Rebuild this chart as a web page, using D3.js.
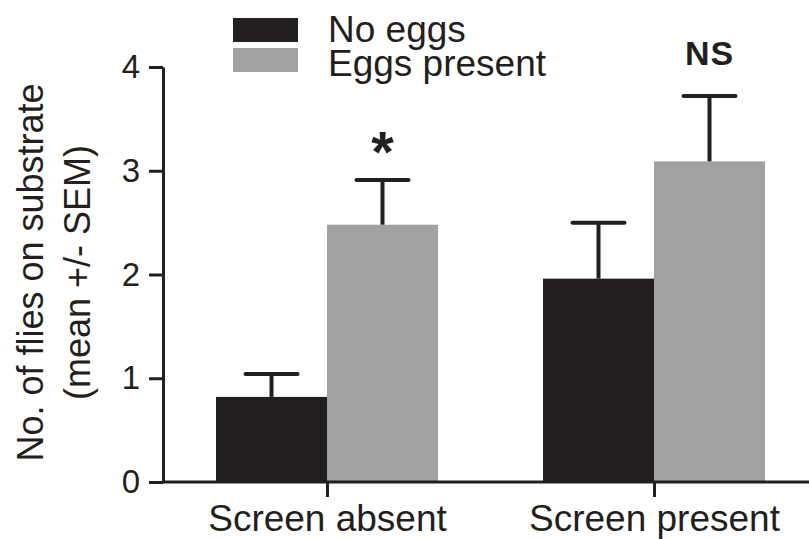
<!DOCTYPE html>
<meta charset="utf-8">
<script src="https://d3js.org/d3.v7.min.js"></script>
<style>
  body { margin: 0; background: #fff; }
  text { font-family: "Liberation Sans", Arial, sans-serif; fill: #231f20; }
</style>
<div id="my_dataviz"></div>
<script>
  // data
  var categories = ["Screen absent", "Screen present"];
  var groups = ["No eggs", "Eggs present"];
  var noEggs = [0.82, 1.96];
  var noEggsSem = [0.22, 0.54];
  var eggsPresent = [2.48, 3.09];
  var eggsPresentSem = [0.43, 0.63];
  var marks = ["*", "NS"];
  var yTicks = [0, 1, 2, 3, 4];

  var colors = {"No eggs": "#231f20", "Eggs present": "#a1a1a4"};

  var margin = {top: 67, right: 0, bottom: 57, left: 163},
      width = 809 - margin.left - margin.right,
      height = 539 - margin.top - margin.bottom;

  var svg = d3.select("#my_dataviz")
    .append("svg")
      .attr("width", 809)
      .attr("height", 539)
    .append("g")
      .attr("transform", "translate(" + margin.left + "," + margin.top + ")");

  // build rows from the arrays
  var rows = categories.map(function(c, i) {
    return {cat: c, mark: marks[i], bars: [
      {group: groups[0], value: noEggs[i], sem: noEggsSem[i]},
      {group: groups[1], value: eggsPresent[i], sem: eggsPresentSem[i]}
    ]};
  });

  var y = d3.scaleLinear().domain([0, 4]).range([height, 0]);

  // category centres sit at the boundary of the two bars
  var x = d3.scalePoint().domain(categories).range([164, 491]);
  var barW = 111;
  var xSub = d3.scaleBand().domain(groups).range([-barW, barW]).padding(0);

  // bars
  var cat = svg.selectAll(".cat").data(rows).enter().append("g")
      .attr("transform", function(d) { return "translate(" + x(d.cat) + ",0)"; });

  cat.selectAll("rect").data(function(d) { return d.bars; }).enter().append("rect")
      .attr("x", function(d) { return xSub(d.group); })
      .attr("width", xSub.bandwidth())
      .attr("y", function(d) { return y(d.value); })
      .attr("height", function(d) { return height - y(d.value); })
      .attr("fill", function(d) { return colors[d.group]; });

  // error bars (upper only)
  var err = cat.selectAll(".err").data(function(d) { return d.bars; }).enter().append("g")
      .attr("transform", function(d) { return "translate(" + (xSub(d.group) + xSub.bandwidth() / 2) + ",0)"; });
  err.append("line")
      .attr("x1", 0).attr("x2", 0)
      .attr("y1", function(d) { return y(d.value); })
      .attr("y2", function(d) { return y(d.value + d.sem); })
      .attr("stroke", "#231f20").attr("stroke-width", 4);
  err.append("line")
      .attr("x1", -26).attr("x2", 26)
      .attr("y1", function(d) { return y(d.value + d.sem); })
      .attr("y2", function(d) { return y(d.value + d.sem); })
      .attr("stroke", "#231f20").attr("stroke-width", 4)
      .attr("stroke-linecap", "round");

  // significance marks above the eggs-present bar
  cat.append("text")
      .attr("x", xSub.bandwidth() / 2)
      .attr("y", function(d) {
        var b = d.bars[1];
        return d.mark == "*" ? y(b.value + b.sem) - 8 : y(b.value + b.sem) - 31;
      })
      .attr("text-anchor", "middle")
      .style("font-weight", "bold")
      .style("font-size", function(d) { return d.mark == "*" ? "58px" : "34px"; })
      .style("letter-spacing", function(d) { return d.mark == "*" ? "0" : "1px"; })
      .text(function(d) { return d.mark; });

  // x axis
  var xAxis = svg.append("g")
      .attr("transform", "translate(0," + height + ")")
      .call(d3.axisBottom(x).tickSize(15).tickPadding(8).tickSizeOuter(0));
  xAxis.select(".domain").attr("d", "M0,0H" + width);
  xAxis.selectAll("text").style("font-size", "37px").attr("dy", "0.71em");

  // y axis
  var yAxis = svg.append("g")
      .call(d3.axisLeft(y).tickValues(yTicks).tickFormat(d3.format("d"))
        .tickSize(14).tickPadding(9).tickSizeOuter(0));
  yAxis.selectAll("text").style("font-size", "33px");

  svg.selectAll(".domain, .tick line")
      .attr("stroke", "#231f20").attr("stroke-width", 3);

  // y label, two lines
  var lab = svg.append("text")
      .attr("transform", "translate(" + (-120) + "," + (height / 2 - 2) + ") rotate(-90)")
      .attr("text-anchor", "middle")
      .style("font-size", "36px");
  lab.append("tspan").attr("x", 0).attr("dy", "0").text("No. of flies on substrate");
  lab.append("tspan").attr("x", 0).attr("dy", "1.3em").text("(mean +/- SEM)");

  // legend
  var legend = svg.append("g").attr("transform", "translate(70," + (-49) + ")");
  var li = legend.selectAll("g").data(groups).enter().append("g")
      .attr("transform", function(d, i) { return "translate(0," + (i * 30) + ")"; });
  li.append("rect")
      .attr("width", 65).attr("height", 24)
      .attr("fill", function(d) { return colors[d]; });
  li.append("text")
      .attr("x", 95).attr("y", function(d, i) { return 24 + i * 4; })
      .style("font-size", "37px")
      .text(function(d) { return d; });
</script>
